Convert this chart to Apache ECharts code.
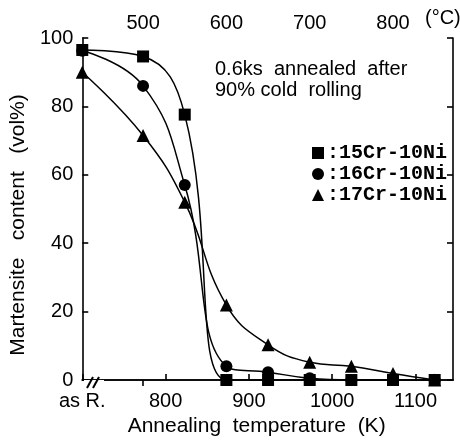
<!DOCTYPE html>
<html><head><meta charset="utf-8">
<script src="https://cdn.jsdelivr.net/npm/echarts@6/dist/echarts.min.js"></script>
<style>html,body{margin:0;padding:0;background:#fff}#c{width:460px;height:442px}</style>
</head><body><div id="c"></div>
<script>
// Annealing temperature in K (700 stands for the as-rolled state "as R.")
const tempK = [700, 773, 823, 873, 923, 973, 1023, 1073, 1123];
const cr15 = [96.5, 94.6, 77.6, 0, 0, 0, 0, 0, 0];
const cr16 = [96.3, 86, 57, 4, 2.3, 0.5, 0, 0, 0];
const cr17 = [90, 71.5, 52, 21.9, 10.3, 5.2, 4, 1.9, 0];
const kTicks = [700, 800, 900, 1000, 1100];
const cTicks = [500, 600, 700, 800];
const names = ['15Cr-10Ni', '16Cr-10Ni', '17Cr-10Ni'];
const note1 = '0.6ks  annealed  after';
const note2 = '90% cold  rolling';

const FONT = "'Liberation Sans', Arial, sans-serif";
const kMin = 700, kMax = 1145;
const line = {color: '#000', width: 1.6};

function mk(name, vals, symbol, size) {
  return {
    name, type: 'line', smooth: 0.45, symbol, symbolSize: size,
    data: tempK.map((t, i) => [t, vals[i]]),
    lineStyle: {color: '#000', width: 1.5},
    itemStyle: {color: '#000'},
    emphasis: {disabled: true}
  };
}

const chart = echarts.init(document.getElementById('c'), null, {renderer: 'canvas'});
chart.setOption({
  animation: false,
  backgroundColor: '#fff',
  textStyle: {fontFamily: FONT, color: '#000'},
  grid: {left: 79, top: 38, right: 7, bottom: 59, containLabel: false},
  legend: {
    orient: 'vertical', left: 307, top: 138, itemWidth: 12, itemHeight: 12, itemGap: 1,
    data: [{name: names[0], icon: 'rect'}, {name: names[1], icon: 'circle'}, {name: names[2], icon: 'triangle'}],
    formatter: n => ':' + n,
    textStyle: {fontFamily: "'Liberation Mono', 'DejaVu Sans Mono', monospace", fontWeight: 'bold', fontSize: 20, color: '#000', padding: [0, 0, 0, -2]},
    itemStyle: {color: '#000'}, selectedMode: false
  },
  xAxis: [{
    type: 'value', position: 'bottom', min: kMin, max: kMax,
    name: 'Annealing  temperature  (K)', nameLocation: 'middle', nameGap: 36,
    nameTextStyle: {fontSize: 21, fontFamily: FONT, color: '#000', padding: [0, 22, 0, 0]},
    axisLine: {lineStyle: line},
    axisTick: {inside: true, length: 6, lineStyle: line, customValues: kTicks},
    axisLabel: {fontSize: 20, color: '#000', margin: 11, customValues: kTicks,
      formatter: v => v === 700 ? 'as R.' : String(v)},
    splitLine: {show: false}
  }, {
    type: 'value', position: 'top', min: kMin - 273, max: kMax - 273,
    axisLine: {lineStyle: line},
    axisTick: {inside: true, length: 6, lineStyle: line, customValues: cTicks},
    axisLabel: {fontSize: 20, color: '#000', margin: 5, customValues: cTicks},
    splitLine: {show: false}
  }],
  yAxis: [{
    type: 'value', position: 'left', min: 0, max: 100, interval: 20,
    name: 'Martensite   content   (vol%)', nameLocation: 'middle', nameGap: 46,
    nameTextStyle: {fontSize: 21, fontFamily: FONT, color: '#000', padding: [0, 32, 0, 0]},
    axisLine: {lineStyle: line},
    axisTick: {inside: true, length: 6, lineStyle: line},
    axisLabel: {fontSize: 20, color: '#000', margin: 9, padding: [0, 0, 6, 0]},
    splitLine: {show: false}
  }, {
    type: 'value', position: 'right', min: 0, max: 100, interval: 20,
    axisLine: {show: true, lineStyle: line},
    axisTick: {inside: true, length: 6, lineStyle: line},
    axisLabel: {show: false},
    splitLine: {show: false}
  }],
  series: [
    mk(names[1], cr16, 'circle', 12),
    mk(names[0], cr15, 'rect', 12),
    mk(names[2], cr17, 'triangle', 13)
  ],
  graphic: [
    {type: 'rect', z: 100, shape: {x: 84, y: 380, width: 20, height: 6}, style: {fill: '#fff'}},
    {type: 'line', z: 101, shape: {x1: 87, y1: 388, x2: 93, y2: 377}, style: {stroke: '#000', lineWidth: 2}},
    {type: 'line', z: 101, shape: {x1: 93, y1: 388, x2: 99, y2: 377}, style: {stroke: '#000', lineWidth: 2}},
    {type: 'text', z: 100, left: 425, top: 8, style: {text: '(°C)', font: "20px 'Liberation Sans', Arial", fill: '#000'}},
    {type: 'text', z: 100, left: 215, top: 59, style: {text: note1, font: "20px 'Liberation Sans', Arial", fill: '#000'}},
    {type: 'text', z: 100, left: 215, top: 80, style: {text: note2, font: "20px 'Liberation Sans', Arial", fill: '#000'}}
  ]
});
</script></body></html>
